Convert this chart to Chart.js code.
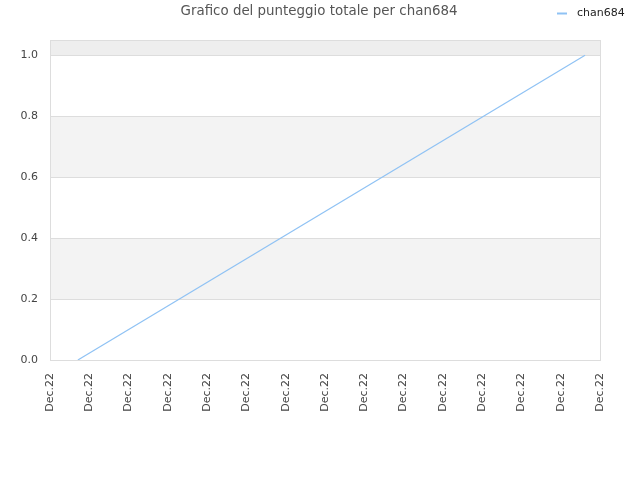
<!DOCTYPE html>
<html><head><meta charset="utf-8">
<script src="https://cdn.jsdelivr.net/npm/chart.js@4"></script>
<style>html,body{margin:0;padding:0;background:#fff}#w{width:640px;height:480px}</style>
</head><body><div id="w"><canvas id="c"></canvas></div>
<script>
const tickLabels = ["Dec.22","Dec.22","Dec.22","Dec.22","Dec.22","Dec.22","Dec.22","Dec.22","Dec.22","Dec.22","Dec.22","Dec.22","Dec.22","Dec.22","Dec.22"];
const seriesName = "chan684";
const xValues = [0.71, 13.62];
const yValues = [0.0, 1.0];
const titleText = "Grafico del punteggio totale per chan684";

const lineColor = "#8fc2f4";
const bandsPlugin = {
  id: "bands",
  beforeDraw(chart) {
    const {ctx, chartArea: a, scales: {y}} = chart;
    ctx.save();
    const bands = [[0.2,0.4,"#f3f3f3"],[0.6,0.8,"#f3f3f3"],[1.0,y.max,"#eeeeee"]];
    for (const [lo,hi,col] of bands) {
      const t = y.getPixelForValue(hi), b = y.getPixelForValue(lo);
      ctx.fillStyle = col;
      ctx.fillRect(a.left, t, a.right - a.left, b - t);
    }
    ctx.restore();
  },
  afterDraw(chart) {
    const {ctx, chartArea: a} = chart;
    ctx.save();
    ctx.strokeStyle = "#dddddd";
    ctx.lineWidth = 1;
    ctx.strokeRect(Math.round(a.left)+0.5, Math.round(a.top)+0.5, Math.round(a.right-a.left), Math.round(a.bottom-a.top));
    // title
    ctx.fillStyle = "#555";
    ctx.font = "13.4px 'DejaVu Sans'";
    ctx.textAlign = "center";
    ctx.textBaseline = "middle";
    ctx.fillText(titleText, 319, 12);
    // legend
    ctx.strokeStyle = lineColor;
    ctx.lineWidth = 2;
    ctx.beginPath(); ctx.moveTo(557, 13.5); ctx.lineTo(567, 13.5); ctx.stroke();
    ctx.fillStyle = "#222";
    ctx.font = "11px 'DejaVu Sans'";
    ctx.textAlign = "left";
    ctx.fillText(chart.data.datasets[0].label, 577, 13);
    ctx.restore();
  }
};

new Chart(document.getElementById("c"), {
  type: "line",
  data: {
    datasets: [{
      label: seriesName,
      data: xValues.map((x,i)=>({x, y: yValues[i]})),
      borderColor: lineColor,
      backgroundColor: lineColor,
      borderWidth: 1.2,
      pointRadius: 0,
      tension: 0,
      fill: false
    }]
  },
  options: {
    responsive: true,
    maintainAspectRatio: false,
    animation: false,
    layout: {padding: {left: 0, right: 40, top: 40, bottom: 0}},
    plugins: {
      legend: {display: false},
      tooltip: {enabled: false},
      title: {display: false}
    },
    scales: {
      x: {
        type: "linear", min: 0, max: tickLabels.length - 1,
        afterFit(s){ s.height = 120; },
        grid: {display: false, drawTicks: false},
        border: {display: false},
        ticks: {stepSize: 1, autoSkip: false, maxRotation: 90, minRotation: 90, padding: 13,
          color: "#444", font: {family: "DejaVu Sans", size: 11},
          callback: (v) => tickLabels[v]}
      },
      y: {
        min: 0, max: 1.05,
        afterFit(s){ s.width = 50; },
        afterBuildTicks(s){ s.ticks = [0,0.2,0.4,0.6,0.8,1.0].map(v=>({value:v})); },
        grid: {color: "#dddddd", drawTicks: false},
        border: {display: false},
        ticks: {padding: 12, color: "#444", font: {family: "DejaVu Sans", size: 11},
          callback: (v) => v.toFixed(1)}
      }
    }
  },
  plugins: [bandsPlugin]
});
</script></body></html>
